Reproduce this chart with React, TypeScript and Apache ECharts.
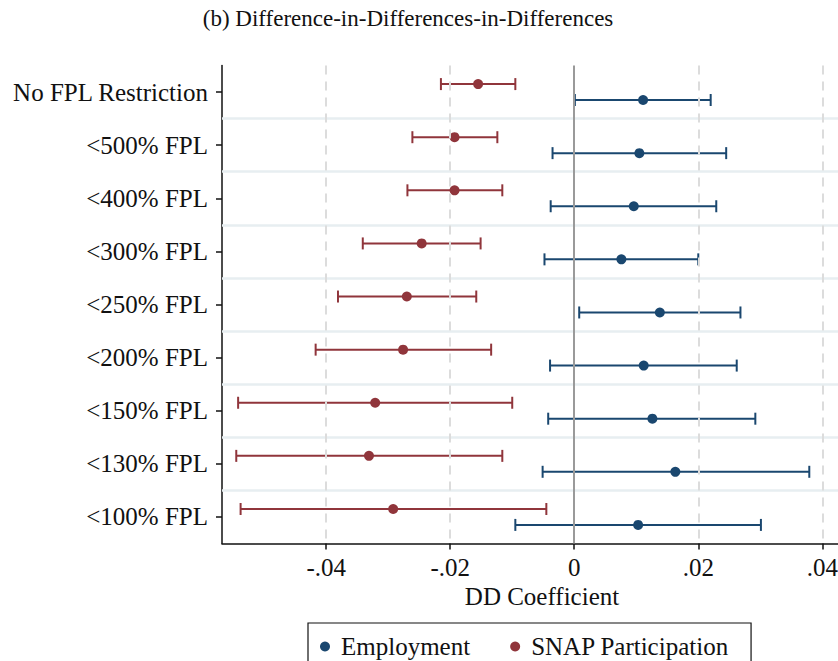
import React, { useEffect, useRef } from "react";
import * as echarts from "echarts";

const categories = [
  "No FPL Restriction",
  "<500% FPL",
  "<400% FPL",
  "<300% FPL",
  "<250% FPL",
  "<200% FPL",
  "<150% FPL",
  "<130% FPL",
  "<100% FPL",
];
const empCoef = [0.0111, 0.0105, 0.0096, 0.0076, 0.0138, 0.0112, 0.0126, 0.0163, 0.0103];
const empLo = [0.0001, -0.0035, -0.0038, -0.0048, 0.0008, -0.0039, -0.0042, -0.0051, -0.0095];
const empHi = [0.022, 0.0245, 0.0229, 0.02, 0.0268, 0.0262, 0.0292, 0.0379, 0.0301];
const snapCoef = [-0.0155, -0.0193, -0.0193, -0.0246, -0.027, -0.0276, -0.0321, -0.0331, -0.0292];
const snapLo = [-0.0215, -0.0261, -0.0269, -0.0341, -0.0381, -0.0417, -0.0542, -0.0545, -0.0538];
const snapHi = [-0.0095, -0.0124, -0.0116, -0.0151, -0.0158, -0.0134, -0.01, -0.0116, -0.0045];
const xTickValues = [-0.04, -0.02, 0, 0.02, 0.04];
const xTickLabels = ["-.04", "-.02", "0", ".02", ".04"];

const BLUE = "#1a476f";
const RED = "#90353b";
const FONT = "'Liberation Serif', 'Times New Roman', serif";
const OFF = 0.15;

function ciRenderer(color: string) {
  return (params: any, api: any) => {
    const lo = api.value(0);
    const hi = api.value(1);
    const y = api.value(2);
    const p1 = api.coord([lo, y]);
    const p2 = api.coord([hi, y]);
    const cap = 6;
    const style = { stroke: color, lineWidth: 2 };
    return {
      type: "group",
      children: [
        { type: "line", shape: { x1: p1[0], y1: p1[1], x2: p2[0], y2: p2[1] }, style },
        { type: "line", shape: { x1: p1[0], y1: p1[1] - cap, x2: p1[0], y2: p1[1] + cap }, style },
        { type: "line", shape: { x1: p2[0], y1: p2[1] - cap, x2: p2[0], y2: p2[1] + cap }, style },
      ],
    };
  };
}

export default function App() {
  const ref = useRef<HTMLDivElement>(null);
  useEffect(() => {
    if (!ref.current) return;
    const chart = echarts.init(ref.current, undefined, { renderer: "svg" });
    const idx = categories.map((_, i) => i);
    const empCI = idx.map((i) => [empLo[i], empHi[i], i + OFF]);
    const snapCI = idx.map((i) => [snapLo[i], snapHi[i], i - OFF]);
    const empPts = idx.map((i) => [empCoef[i], i + OFF]);
    const snapPts = idx.map((i) => [snapCoef[i], i - OFF]);

    const option: any = {
      animation: false,
      backgroundColor: "#ffffff",
      textStyle: { fontFamily: FONT },
      graphic: [
        {
          type: "text",
          x: 408,
          y: 18,
          style: {
            text: "(b) Difference-in-Differences-in-Differences",
            align: "center",
            verticalAlign: "middle",
            font: `23px ${FONT}`,
            fill: "#111",
          },
        },
      ],
      grid: { left: 222, top: 65.5, width: 640, height: 478, outerBoundsMode: "none", containLabel: false },
      xAxis: {
        type: "value",
        min: -0.0568,
        max: 0.0464,
        name: "DD Coefficient",
        nameLocation: "middle",
        nameGap: 40,
        nameTextStyle: { fontFamily: FONT, fontSize: 25, color: "#111" },
        axisLine: { show: true, onZero: false, lineStyle: { color: "#111", width: 1.5 } },
        axisTick: { show: true, length: 6, customValues: xTickValues, lineStyle: { color: "#111", width: 1.5 } },
        axisLabel: {
          customValues: xTickValues,
          margin: 11,
          fontFamily: FONT,
          fontSize: 25,
          color: "#111",
          formatter: (v: number) => {
            const k = xTickValues.findIndex((t) => Math.abs(t - v) < 1e-9);
            return k >= 0 ? xTickLabels[k] : "";
          },
        },
        splitLine: { show: false },
      },
      yAxis: {
        type: "value",
        inverse: true,
        min: -0.5,
        max: 8.5,
        axisLine: { show: true, onZero: false, lineStyle: { color: "#111", width: 1.5 } },
        axisTick: { show: true, length: 6, customValues: idx, lineStyle: { color: "#111", width: 1.5 } },
        axisLabel: {
          customValues: idx,
          margin: 14,
          fontFamily: FONT,
          fontSize: 25,
          color: "#111",
          formatter: (v: number) => categories[Math.round(v)] ?? "",
        },
        splitLine: { show: false },
      },
      legend: {
        left: 308,
        top: 623,
        orient: "horizontal",
        data: [
          { name: "Employment", icon: "circle" },
          { name: "SNAP Participation", icon: "circle" },
        ],
        itemWidth: 10,
        itemHeight: 10,
        itemGap: 40,
        padding: [11, 22, 30, 12],
        borderColor: "#111",
        borderWidth: 1.2,
        textStyle: { fontFamily: FONT, fontSize: 25, color: "#111", padding: [0, 0, 0, 6] },
      },
      series: [
        {
          type: "line",
          name: "guides",
          data: [],
          silent: true,
          z: 1,
          markLine: {
            silent: true,
            symbol: "none",
            label: { show: false },
            data: [
              ...[0.5, 1.5, 2.5, 3.5, 4.5, 5.5, 6.5, 7.5].map((y) => ({
                yAxis: y,
                lineStyle: { color: "#e7eef1", width: 2.5, type: "solid" },
              })),
              ...[-0.04, -0.02, 0.02, 0.04].map((x) => ({
                xAxis: x,
                lineStyle: { color: "#dcdcdc", width: 2, type: [9, 7] },
              })),
              { xAxis: 0, lineStyle: { color: "#9a9a9a", width: 2, type: "solid" } },
            ],
          },
        },
        {
          type: "custom",
          name: "snap-ci",
          renderItem: ciRenderer(RED),
          encode: { x: [0, 1], y: 2 },
          data: snapCI,
          z: 3,
        },
        {
          type: "custom",
          name: "emp-ci",
          renderItem: ciRenderer(BLUE),
          encode: { x: [0, 1], y: 2 },
          data: empCI,
          z: 3,
        },
        {
          type: "scatter",
          name: "Employment",
          data: empPts,
          symbol: "circle",
          symbolSize: 10,
          itemStyle: { color: BLUE, opacity: 1 },
          z: 4,
        },
        {
          type: "scatter",
          name: "SNAP Participation",
          data: snapPts,
          symbol: "circle",
          symbolSize: 10,
          itemStyle: { color: RED, opacity: 1 },
          z: 4,
        },
      ],
    };
    chart.setOption(option);
    return () => chart.dispose();
  }, []);
  return (
    <div
      ref={ref}
      style={{ position: "absolute", left: 0, top: 0, width: 838, height: 661, background: "#fff" }}
    />
  );
}
